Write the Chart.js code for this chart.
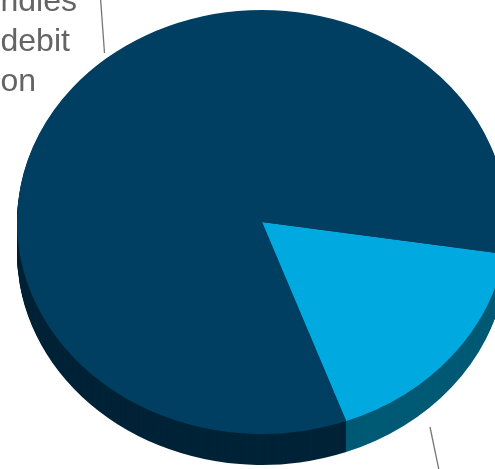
<!DOCTYPE html>
<html lang="en">
<head>
    <meta charset="UTF-8">
    <title>3D Pie</title>
    <script src="https://cdn.jsdelivr.net/npm/chart.js"></script>
    <style>
        * {
            margin: 0;
            padding: 0;
            box-sizing: border-box;
        }

        body {
            background: #ffffff;
            width: 495px;
            height: 469px;
            overflow: hidden;
        }

        #pie {
            display: block;
        }
    </style>
</head>
<body>
    <canvas id="pie" width="495" height="469"></canvas>

    <script>
        // Data (light blue slice first, then the big navy one)
        const categories = ['other', 'ndles debit on'];
        const shares = [17, 83];
        const topColors = ['#00a9df', '#003f62'];
        const sideColors = ['#005a75', '#002337'];
        // visible label lines for each slice (the rest is cut off by the frame)
        const labelLines = [[], ['ndles', 'debit', 'on']];

        const tilt = 212 / 245;   // vertical squash of the pie top
        const depth = 31;         // thickness of the pie wall, px

        // Draw the wall as stacked copies, then squash the top itself
        const pie3d = {
            id: 'pie3d',
            beforeDatasetsDraw(chart) {
                const ctx = chart.ctx;
                const arcs = chart.getDatasetMeta(0).data;
                const cx = arcs[0].x, cy = arcs[0].y;
                ctx.save();
                for (let d = depth; d > 0; d--) {
                    ctx.save();
                    ctx.translate(cx, cy + d);
                    ctx.scale(1, tilt);
                    arcs.forEach((arc, i) => {
                        ctx.beginPath();
                        ctx.moveTo(0, 0);
                        ctx.arc(0, 0, arc.outerRadius, arc.startAngle, arc.endAngle);
                        ctx.closePath();
                        ctx.fillStyle = sideColors[i];
                        ctx.fill();
                    });
                    ctx.restore();
                }
                ctx.translate(cx, cy);
                ctx.scale(1, tilt);
                ctx.translate(-cx, -cy);
            },
            afterDatasetsDraw(chart) {
                chart.ctx.restore();
            }
        };

        // Outside labels with leader lines
        const labelPos = [
            { x: 0, y: 0, line: [[430, 427], [440, 475]] },
            { x: 0.5, y: 11, line: [[100.5, -2], [104.5, 53]] }
        ];

        const outsideLabels = {
            id: 'outsideLabels',
            afterDraw(chart) {
                const ctx = chart.ctx;
                ctx.save();
                ctx.strokeStyle = '#767676';
                ctx.lineWidth = 1.3;
                labelPos.forEach((p, i) => {
                    ctx.beginPath();
                    ctx.moveTo(p.line[0][0], p.line[0][1]);
                    ctx.lineTo(p.line[1][0], p.line[1][1]);
                    ctx.stroke();

                    ctx.fillStyle = '#646464';
                    ctx.font = '32px "Liberation Sans", Arial, sans-serif';
                    ctx.textAlign = 'left';
                    ctx.textBaseline = 'alphabetic';
                    labelLines[i].forEach((t, k) => {
                        ctx.fillText(t, p.x, p.y + k * 40);
                    });
                });
                ctx.restore();
            }
        };

        new Chart(document.getElementById('pie'), {
            type: 'pie',
            data: {
                labels: categories,
                datasets: [{
                    data: shares,
                    backgroundColor: topColors,
                    borderWidth: 0,
                    radius: 245,
                    clip: false
                }]
            },
            options: {
                responsive: false,
                animation: false,
                rotation: 98.7,
                layout: {
                    padding: { left: 29, right: 0, top: 0, bottom: 25 }
                },
                plugins: {
                    legend: { display: false },
                    tooltip: { enabled: false }
                }
            },
            plugins: [pie3d, outsideLabels]
        });
    </script>
</body>
</html>
